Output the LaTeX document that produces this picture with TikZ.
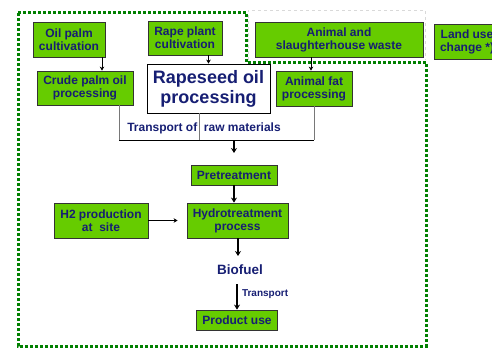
\documentclass[tikz,border=0pt]{standalone}
\usepackage{fontspec}
\setmainfont{Liberation Sans}
\usetikzlibrary{arrows.meta}

\definecolor{boxgreen}{RGB}{102,204,0}
\definecolor{navytext}{RGB}{22,30,115}
\definecolor{framegreen}{RGB}{0,128,0}
\definecolor{feedgray}{RGB}{120,120,120}

\tikzset{
  gbox/.style={draw=black!80, line width=0.8pt, fill=boxgreen, text=navytext,
    align=center, inner sep=0pt,
    font=\fontsize{12}{13}\selectfont\bfseries},
  wbox/.style={draw=black, line width=0.8pt, fill=white, text=navytext,
    align=center, inner sep=0pt,
    font=\fontsize{18}{20}\selectfont\bfseries},
  lbl/.style={text=navytext, inner sep=0pt, font=\fontsize{12}{13}\selectfont\bfseries},
  arr/.style={draw=black, line width=0.9pt, -{Stealth[length=4pt,width=4.5pt]}},
  bigarr/.style={draw=black, line width=2pt, -{Stealth[length=5pt,width=6pt]}},
  feed/.style={draw=feedgray, line width=1pt},
  bus/.style={draw=black, line width=1pt},
  frame/.style={draw=framegreen, line width=3pt, dash pattern=on 3pt off 2pt},
  faint/.style={draw=black!15, line width=0.6pt, dashed},
}

\begin{document}
\begin{tikzpicture}[x=1pt, y=-1pt]
\useasboundingbox (0,0) rectangle (492,348);

% system boundary
\draw[faint] (248,60) -- (248,10) -- (425,10) -- (425,60);
\draw[frame] (18,12) -- (246,12) -- (246,62) -- (426,62) -- (426,346) -- (18,346) -- cycle;

% feedstock and processing boxes
\node[gbox, minimum width=72pt, minimum height=35pt] (oilpalm) at (69,39.5) {Oil palm\\cultivation};
\node[gbox, minimum width=74pt, minimum height=34pt] (rapeplant) at (185,38) {Rape plant\\cultivation};
\node[gbox, minimum width=168pt, minimum height=35pt] (animalwaste) at (339,39.5) {Animal and\\slaughterhouse waste};
\node[gbox, minimum width=66pt, minimum height=35pt] (landuse) at (467,41.5) {Land use\\change *)};

\node[gbox, minimum width=96pt, minimum height=34pt] (crude) at (85,88) {Crude palm oil\\processing};
\node[wbox, minimum width=123pt, minimum height=49pt] (rapeseed) at (208.5,88.5) {Rapeseed oil\\processing};
\node[gbox, minimum width=76pt, minimum height=35pt] (animalfat) at (314,88.5) {Animal fat\\processing};

\node[lbl] (transport) at (204,128) {Transport of\ \ raw materials};

\node[gbox, minimum width=86pt, minimum height=20pt] (pretreat) at (234,175) {Pretreatment};
\node[gbox, minimum width=94pt, minimum height=35pt] (htwo) at (101,220.5) {H2 production\\at\ \ site};
\node[gbox, minimum width=101pt, minimum height=35pt] (hydro) at (237.5,220.5) {Hydrotreatment\\process};
\node[lbl, font=\fontsize{13.5}{15}\selectfont\bfseries] (biofuel) at (240,270) {Biofuel};
\node[gbox, minimum width=81pt, minimum height=20pt] (product) at (237,320) {Product use};

% collection of raw materials
\coordinate (busL) at (119,140);
\coordinate (busM) at (199,140);
\coordinate (busR) at (314,140);
\coordinate (busJ) at (234,140);
\coordinate (busEnd) at (234,153);

% feedstock arrows
\draw[arr] ([xshift=33pt]oilpalm.south) -- ([xshift=33pt]oilpalm.south |- crude.north);
\draw[arr] (rapeseed.north |- rapeplant.south) -- (rapeseed.north);
\draw[arr] ([xshift=-3pt]animalfat.north |- animalwaste.south) -- ([xshift=-3pt]animalfat.north);

% transport of raw materials
\draw[feed] ([xshift=34pt]crude.south) -- (busL);
\draw[feed] ([xshift=-9.5pt]rapeseed.south) -- (busM);
\draw[feed] (animalfat.south) -- (busR);
\draw[bus] (busL) -- (busR);
\draw[bigarr, line width=1.6pt] (busJ) -- (busEnd);

% conversion chain
\draw[bigarr, line width=1.6pt] (pretreat.south) -- (pretreat.south |- hydro.north);
\draw[arr, line width=1.1pt] (htwo.east) -- ([xshift=-9pt]hydro.west);
\draw[bigarr] ([xshift=0.5pt]hydro.south) -- ([xshift=0.5pt]hydro.south |- 0,256);
\draw[bigarr] ([yshift=-9pt]product.north |- biofuel.south) -- (product.north)
  node[lbl, font=\fontsize{10}{11}\selectfont\bfseries, anchor=west, pos=0.4, xshift=4pt] {Transport};
\end{tikzpicture}
\end{document}
